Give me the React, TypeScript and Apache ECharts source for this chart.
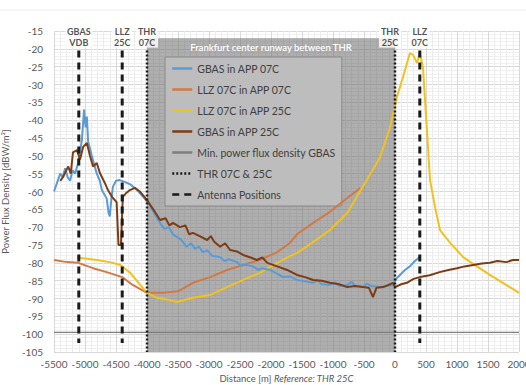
import React, { useEffect, useRef } from "react";
import * as echarts from "echarts";

// [distance m, power flux density dBW/m²]
const gbasApp07c: [number, number][] = [
  [-5500, -60], [-5440, -57], [-5400, -55], [-5360, -56], [-5320, -53.5], [-5280, -56], [-5240, -57], [-5200, -54],
  [-5160, -55], [-5110, -52], [-5050, -45.5], [-5015, -37], [-4990, -42], [-4970, -39], [-4950, -46], [-4890, -50],
  [-4810, -55], [-4760, -57], [-4730, -59.5], [-4650, -62], [-4620, -66], [-4600, -67], [-4580, -63], [-4550, -58.7],
  [-4500, -57], [-4440, -56.8], [-4360, -57.3], [-4270, -58], [-4160, -59.6], [-4060, -61.5], [-3950, -64],
  [-3870, -66.5], [-3790, -68.8], [-3720, -70.5], [-3650, -70], [-3580, -72], [-3520, -72.7], [-3450, -73.5],
  [-3360, -75.5], [-3290, -74.5], [-3230, -76], [-3160, -75.5], [-3100, -77], [-3030, -76.5], [-2950, -78],
  [-2820, -78.4], [-2750, -79.5], [-2680, -79], [-2550, -79.8], [-2480, -80.8], [-2420, -80.5], [-2290, -81],
  [-2200, -82], [-2150, -81.5], [-2020, -82], [-1900, -83], [-1810, -84], [-1700, -83.8], [-1580, -84.8],
  [-1450, -85.2], [-1320, -85.6], [-1250, -84.8], [-1180, -86], [-1050, -86.2], [-960, -85.5], [-900, -86.5],
  [-770, -86.2], [-700, -85.3], [-640, -86.5], [-520, -86.8], [-450, -85.8], [-380, -86.5], [-240, -86.8],
  [-130, -86.5], [-30, -86.2], [20, -84.5], [80, -83.4], [160, -82], [240, -81], [320, -79.5], [400, -78.4],
];
const llzApp07c: [number, number][] = [
  [-5500, -79.2], [-5290, -79.8], [-5110, -80], [-4870, -81.5], [-4650, -82.6], [-4400, -84], [-4230, -86.2],
  [-4000, -88.4], [-3740, -88.4], [-3500, -88], [-3260, -85.6], [-2980, -84], [-2710, -82], [-2450, -80.6],
  [-2180, -79.2], [-1900, -77], [-1700, -74.5], [-1580, -72], [-1320, -68.8], [-1050, -65.7], [-770, -61.8],
  [-560, -59],
];
const llzApp25c: [number, number][] = [
  [-5130, -78.4], [-5030, -78.7], [-4810, -79.2], [-4600, -79.8], [-4430, -80.6], [-4270, -82.8], [-4110, -86.2],
  [-4000, -88.4], [-3840, -89.8], [-3630, -90.4], [-3520, -91], [-3260, -89.8], [-2980, -89], [-2710, -86.8],
  [-2450, -84.8], [-2180, -82.8], [-1900, -80], [-1700, -78.2], [-1580, -77.2], [-1320, -74.2], [-1050, -70.8],
  [-770, -66], [-520, -58.7], [-360, -54], [-240, -50.3], [-80, -42], [30, -33.5], [130, -27.9], [240, -21.2],
  [290, -21.7], [355, -24], [400, -21.2], [450, -25], [515, -42.8], [565, -56.8], [645, -64.3], [725, -70.8],
  [890, -74.4], [1100, -78.4], [1320, -81], [1530, -83.4], [1740, -85.6], [2000, -88.4],
];
const gbasApp25c: [number, number][] = [
  [-5400, -57], [-5355, -56], [-5300, -54], [-5270, -53], [-5230, -55], [-5194, -49], [-5130, -48.4], [-5080, -51],
  [-5030, -47.5], [-4970, -46.4], [-4920, -50], [-4870, -53], [-4810, -52], [-4760, -54.8], [-4680, -57.6],
  [-4630, -59.6], [-4565, -61.5], [-4490, -63], [-4460, -75], [-4420, -75], [-4390, -61.5], [-4340, -60.5],
  [-4275, -59.6], [-4195, -59], [-4115, -60], [-4000, -62.4], [-3900, -65], [-3790, -68], [-3700, -67.5],
  [-3640, -69.5], [-3580, -68.8], [-3470, -70], [-3380, -69.5], [-3320, -72], [-3260, -71.6], [-3150, -72.5],
  [-3030, -73.6], [-2970, -72.5], [-2920, -74], [-2820, -75.5], [-2740, -74.5], [-2660, -76.4], [-2550, -76.8],
  [-2450, -77.8], [-2330, -78.5], [-2230, -79.2], [-2140, -78.5], [-2060, -80], [-1900, -81], [-1740, -82],
  [-1580, -83.4], [-1450, -84], [-1320, -84.8], [-1180, -85], [-1050, -85.6], [-900, -86], [-770, -86.8],
  [-640, -86.5], [-520, -86.8], [-420, -87], [-355, -89.6], [-300, -87], [-190, -86.8], [-30, -85.6], [0, -86.8],
  [100, -86], [190, -85.6], [300, -84.5], [400, -84], [560, -83.5], [720, -82.6], [860, -82], [1000, -81.5],
  [1120, -81], [1260, -80.6], [1400, -80.2], [1530, -80], [1650, -79.5], [1800, -79.8], [1900, -79.2], [2000, -79.2],
];

const minPowerFlux = -99.5;
const antennaX = [-5100, -4400, 400];
const antennaLabels = ["GBAS\nVDB", "LLZ\n25C", "LLZ\n07C"];
const thrX = [-4000, 0];
const thrLabels = ["THR\n07C", "THR\n25C"];
const markerTop = -20.5;
const antennaBottom = -102.5;
const runwayTop = -17;
const runwayText = "Frankfurt center runway between THR";

const FONT = "Lato, 'Noto Sans', sans-serif";
const C_BLUE = "#5b9bd5";
const C_ORANGE = "#d27a45";
const C_YELLOW = "#f0c21f";
const C_BROWN = "#7e3c14";

export default function App() {
  const ref = useRef<HTMLDivElement>(null);
  useEffect(() => {
    document.body.style.margin = "0";
    const chart = echarts.init(ref.current!, undefined, { renderer: "svg" });
    const dataLine = (name: string, data: [number, number][], color: string, z = 5) => ({
      name, type: "line", data, symbol: "none", z,
      lineStyle: { color, width: 2 }, itemStyle: { color },
    });
    const series: any[] = [
      {
        name: "runway", type: "line", data: [], z: 1,
        markArea: {
          silent: true,
          itemStyle: { color: "rgba(105,105,105,0.54)" },
          label: { show: true, position: "insideTop", distance: 4, color: "#fff", fontSize: 9.5, fontWeight: 600, fontFamily: FONT },
          data: [[{ xAxis: thrX[0], yAxis: runwayTop, name: runwayText }, { xAxis: thrX[1], yAxis: -105 }]],
        },
      },
      dataLine("GBAS in APP 07C", gbasApp07c, C_BLUE, 5),
      dataLine("LLZ 07C in APP 07C", llzApp07c, C_ORANGE, 4),
      dataLine("LLZ 07C in APP 25C", llzApp25c, C_YELLOW, 4),
      dataLine("GBAS in APP 25C", gbasApp25c, C_BROWN, 6),
      {
        name: "Min. power flux density GBAS", type: "line", symbol: "none", z: 3,
        data: [[-5500, minPowerFlux], [2000, minPowerFlux]],
        lineStyle: { color: "#7f7f7f", width: 1.3 }, itemStyle: { color: "#7f7f7f" },
      },
      ...thrX.map((x) => ({
        name: "THR 07C & 25C", type: "line", symbol: "none", z: 7,
        data: [[x, markerTop], [x, -105]],
        lineStyle: { color: "#1a1a1a", width: 2.5, type: [2, 2] }, itemStyle: { color: "#1a1a1a" },
      })),
      ...antennaX.map((x) => ({
        name: "Antenna Positions", type: "line", symbol: "none", z: 8,
        data: [[x, markerTop], [x, antennaBottom]],
        lineStyle: { color: "#1a1a1a", width: 3, type: [7, 5] }, itemStyle: { color: "#1a1a1a" },
      })),
      {
        name: "labels", type: "scatter", symbolSize: 0, z: 9, silent: true,
        data: [
          ...antennaX.map((x, i) => [x, markerTop, antennaLabels[i]]),
          ...thrX.map((x, i) => [x, markerTop, thrLabels[i]]),
        ],
        label: {
          show: true, position: "top", distance: 3,
          formatter: (p: any) => p.value[2],
          backgroundColor: "#fff", padding: [1, 2, 0, 2],
          color: "#262626", fontSize: 9, lineHeight: 11, fontWeight: "bold", fontFamily: FONT,
        },
        labelLayout: (p: any) => (p.dataIndex === 4 ? { dx: -5 } : {}),
      },
    ];
    chart.setOption({
      animation: false,
      textStyle: { fontFamily: FONT },
      grid: { left: 54, right: 7, top: 31, bottom: 33, outerBoundsMode: "none", containLabel: false },
      graphic: [{ type: "line", shape: { x1: 0, y1: 10, x2: 526, y2: 10 }, style: { stroke: "#ececec", lineWidth: 1 } }],
      legend: {
        orient: "vertical", left: 165, top: 57,
        data: ["GBAS in APP 07C", "LLZ 07C in APP 07C", "LLZ 07C in APP 25C", "GBAS in APP 25C",
          "Min. power flux density GBAS", "THR 07C & 25C", "Antenna Positions"],
        backgroundColor: "#bdbdbd", borderColor: "#8a8a8a", borderWidth: 1,
        padding: [6, 6, 6, 6], itemWidth: 20, itemHeight: 10, itemGap: 10,
        itemStyle: { opacity: 0 },
        lineStyle: { width: 2.5 },
        textStyle: { color: "#404040", fontSize: 10.5, lineHeight: 10, fontFamily: FONT },
        selectedMode: false,
      },
      xAxis: {
        type: "value", min: -5500, max: 2000, interval: 500,
        axisLine: { show: false }, axisTick: { show: false },
        axisLabel: { color: "#595959", fontSize: 10, margin: 7, fontFamily: FONT, formatter: (v: number) => String(v) },
        splitLine: { show: true, lineStyle: { color: "#d9d9d9", width: 1 } },
        minorTick: { show: true, splitNumber: 5, length: 0 },
        minorSplitLine: { show: true, lineStyle: { color: "#ececec", width: 1 } },
        name: "{a|Distance [m] }{b|Reference: THR 25C}", nameLocation: "middle", nameGap: 20,
        nameTextStyle: {
          rich: {
            a: { color: "#595959", fontSize: 9.5, fontFamily: FONT },
            b: { color: "#595959", fontSize: 9.5, fontStyle: "italic", fontFamily: FONT },
          },
        },
      },
      yAxis: {
        type: "value", min: -105, max: -15, interval: 5,
        axisLine: { show: false }, axisTick: { show: false },
        axisLabel: { color: "#595959", fontSize: 10, margin: 11, fontFamily: FONT },
        splitLine: { show: true, lineStyle: { color: "#d9d9d9", width: 1 } },
        minorTick: { show: true, splitNumber: 5, length: 0 },
        minorSplitLine: { show: true, lineStyle: { color: "#f0f0f0", width: 1 } },
        name: "Power Flux Density [dBW/m²]", nameLocation: "middle", nameGap: 36,
        nameTextStyle: { color: "#595959", fontSize: 9.5, fontFamily: FONT },
      },
      series,
    });
    return () => chart.dispose();
  }, []);
  return <div ref={ref} style={{ position: "absolute", left: 0, top: 0, width: 526, height: 385 }} />;
}
